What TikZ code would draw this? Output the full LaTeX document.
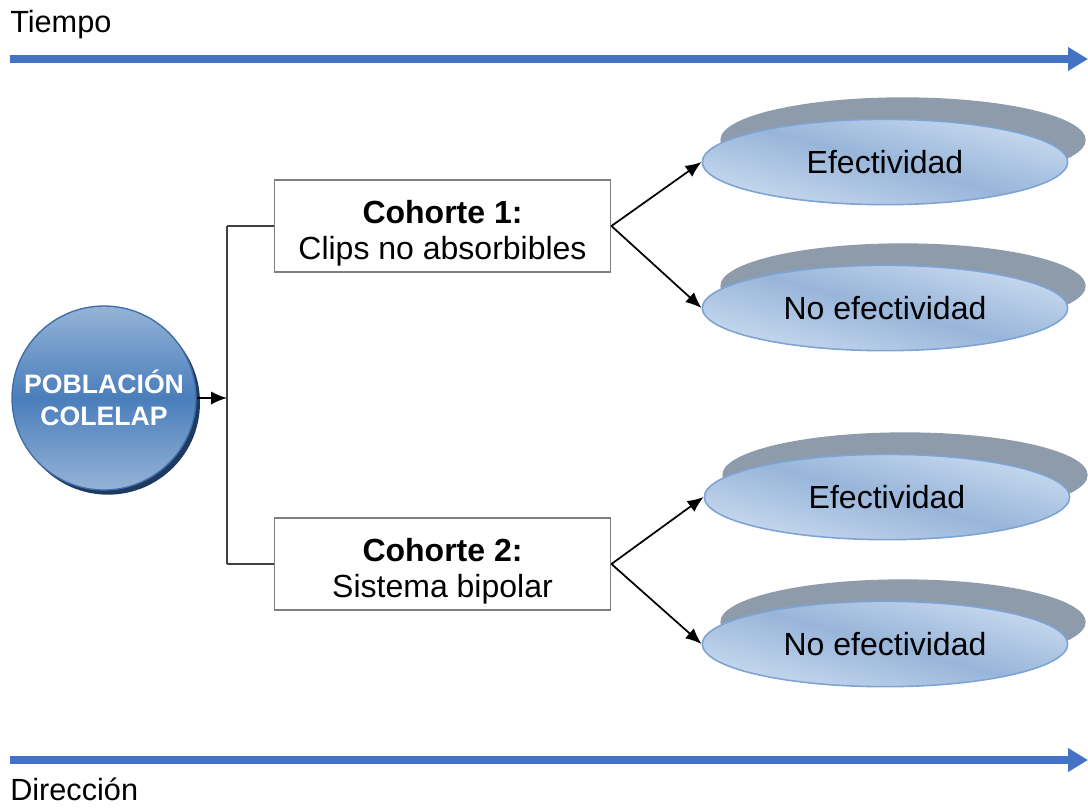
\documentclass[tikz,border=0pt]{standalone}
\usepackage{fontspec}
\setmainfont{Liberation Sans}
\usetikzlibrary{arrows.meta,positioning,shapes.geometric,shadows}
\definecolor{axisblue}{HTML}{4472C4}
\definecolor{boxgray}{HTML}{7F7F7F}
\definecolor{wiregray}{HTML}{404040}
\definecolor{elllight}{HTML}{C9DAF0}
\definecolor{ellmid}{HTML}{98B5D9}
\definecolor{ellborder}{HTML}{7EA4D3}
\definecolor{shadowgray}{HTML}{8D9BAB}
\definecolor{poplight}{HTML}{95B3D7}
\definecolor{popmid}{HTML}{4A7EBB}
\definecolor{popborder}{HTML}{3E6CA6}
\definecolor{popshadow}{HTML}{1F3A60}
\tikzset{
  timeline/.style = {line width=6pt, axisblue, -{Triangle[length=15pt,width=17pt]}},
  cohort/.style   = {draw=boxgray, line width=1.4pt, fill=white, minimum width=252pt,
                     minimum height=69pt, align=center, font=\fontsize{24}{26.5}\selectfont},
  outcome/.style  = {ellipse, draw=ellborder, line width=1.2pt, top color=elllight,
                     bottom color=elllight, middle color=ellmid, shading angle=-15,
                     minimum width=274pt, minimum height=64pt, inner sep=0pt,
                     font=\fontsize{24}{26}\selectfont,
                     drop shadow={shadow xshift=13.5pt, shadow yshift=16.5pt,
                                  fill=shadowgray, opacity=1}},
  popul/.style    = {circle, draw=popborder, line width=1pt, top color=poplight,
                     bottom color=poplight, middle color=popmid, minimum size=138pt,
                     inner sep=0pt, align=center, text=white,
                     font=\bfseries\fontsize{20}{24}\selectfont,
                     drop shadow={shadow xshift=3pt, shadow yshift=-3.5pt,
                                  fill=popshadow, opacity=1}},
  link/.style     = {line width=1.3pt, -{Latex[length=12pt,width=10pt]}},
  wire/.style     = {line width=0.8pt, wiregray},
}
\begin{document}
\begin{tikzpicture}[x=0.75pt,y=-0.75pt]
  \useasboundingbox (0,0) rectangle (1088,808);
  % time axis
  \node[anchor=base west, inner sep=0pt, font=\fontsize{23}{26}\selectfont] (tiempo) at (10,32) {Tiempo};
  \coordinate (t0) at (10,59); \coordinate (t1) at (1088,59);
  \draw[timeline] (t0) -- (t1);
  \node[anchor=base west, inner sep=0pt, font=\fontsize{23}{26}\selectfont] (direc) at (10,800) {Dirección};
  \coordinate (d0) at (10,760); \coordinate (d1) at (1088,760);
  \draw[timeline] (d0) -- (d1);
  % population and cohorts
  \node[popul] (pop) at (104,398) {POBLACIÓN\\COLELAP};
  \node[cohort] (c1) at (442.5,226) {\rule{0pt}{28pt}\textbf{Cohorte 1:}\\Clips no absorbibles};
  \node[cohort] (c2) at (442.5,564) {\rule{0pt}{28pt}\textbf{Cohorte 2:}\\Sistema bipolar};
  \coordinate (bus) at (227,398);
  \coordinate (j1) at (bus |- c1.west);
  \coordinate (j2) at (bus |- c2.west);
  \draw[wire] (j1) -- (j2);
  \draw[wire] (j1) -- (c1.west);
  \draw[wire] (j2) -- (c2.west);
  \draw[link] (pop) -- (bus);
  % outcomes
  \node[outcome] (e1) at (885,162) {Efectividad};
  \node[outcome] (e2) at (885,308) {No efectividad};
  \node[outcome] (e3) at (887,497) {Efectividad};
  \node[outcome] (e4) at (885,644) {No efectividad};
  \draw[link] (c1.east) -- (e1.west);
  \draw[link] (c1.east) -- (e2.west);
  \draw[link] (c2.east) -- (e3.west);
  \draw[link] (c2.east) -- (e4.west);
\end{tikzpicture}
\end{document}
